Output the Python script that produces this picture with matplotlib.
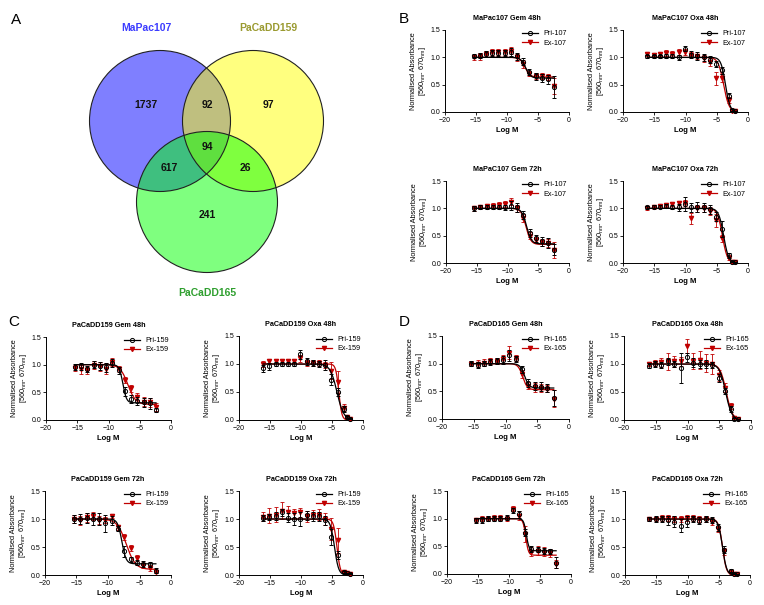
import numpy as np
import matplotlib
matplotlib.use("Agg")
import matplotlib.pyplot as plt
from matplotlib.patches import Circle
from matplotlib.lines import Line2D

plt.rcParams['font.family'] = ['Liberation Sans', 'DejaVu Sans']
plt.rcParams['mathtext.fontset'] = 'custom'
plt.rcParams['mathtext.rm'] = 'Liberation Sans'
plt.rcParams['mathtext.it'] = 'Liberation Sans:italic'
plt.rcParams['mathtext.bf'] = 'Liberation Sans:bold'

# ---------------- panel A : venn ----------------
venn_sets = ['MaPac107', 'PaCaDD159', 'PaCaDD165']
venn_regions = ['100', '110', '010', '111', '101', '011', '001']
venn_counts = [1737, 92, 97, 94, 617, 26, 241]

# ---------------- dose response data ----------------
gem_logm = [-15.4, -14.4, -13.4, -12.4, -11.4, -10.4, -9.4, -8.4, -7.4, -6.4, -5.4, -4.4, -3.4, -2.4]
oxa_logm = [-16.1, -15.1, -14.1, -13.1, -12.1, -11.1, -10.1, -9.1, -8.1, -7.1, -6.1, -5.1, -4.1, -3.1, -2.6, -2.1]

# fit params: (top, bottom, logIC50, hill)
b1_pri = [1.02, 1.03, 1.06, 1.08, 1.08, 1.08, 1.10, 1.02, 0.92, 0.73, 0.65, 0.62, 0.60, 0.45]
b1_pri_err = [0.04, 0.05, 0.05, 0.06, 0.06, 0.05, 0.07, 0.06, 0.06, 0.05, 0.07, 0.08, 0.08, 0.20]
b1_ex = [1.00, 1.02, 1.06, 1.10, 1.10, 1.10, 1.12, 1.00, 0.88, 0.70, 0.66, 0.66, 0.64, 0.48]
b1_ex_err = [0.05, 0.06, 0.06, 0.05, 0.06, 0.06, 0.06, 0.06, 0.07, 0.05, 0.05, 0.06, 0.05, 0.15]
b1_fit = [(1.0, 0.62, -7.0, 1.1), (1.0, 0.64, -7.1, 1.1)]

b2_pri = [1.02, 1.02, 1.02, 1.03, 1.02, 1.00, 1.16, 1.05, 1.02, 1.00, 0.96, 0.88, 0.76, 0.30, 0.04, 0.01]
b2_pri_err = [0.03, 0.03, 0.03, 0.04, 0.04, 0.05, 0.05, 0.06, 0.07, 0.07, 0.06, 0.06, 0.06, 0.05, 0.02, 0.01]
b2_ex = [1.06, 1.05, 1.06, 1.08, 1.06, 1.10, 1.10, 1.05, 1.02, 0.98, 0.92, 0.62, 0.62, 0.22, 0.02, 0.01]
b2_ex_err = [0.03, 0.03, 0.04, 0.06, 0.06, 0.05, 0.05, 0.05, 0.05, 0.06, 0.07, 0.12, 0.07, 0.05, 0.01, 0.01]
b2_fit = [(1.0, 0.0, -3.6, 1.2), (1.0, 0.0, -3.9, 1.0)]

b3_pri = [1.00, 1.02, 1.02, 1.02, 1.02, 1.02, 1.05, 1.02, 0.88, 0.55, 0.45, 0.40, 0.37, 0.24]
b3_pri_err = [0.04, 0.04, 0.04, 0.04, 0.04, 0.05, 0.08, 0.08, 0.08, 0.07, 0.06, 0.08, 0.09, 0.10]
b3_ex = [1.00, 1.02, 1.04, 1.05, 1.07, 1.08, 1.12, 1.00, 0.82, 0.50, 0.42, 0.38, 0.36, 0.24]
b3_ex_err = [0.04, 0.04, 0.04, 0.04, 0.05, 0.05, 0.06, 0.06, 0.07, 0.06, 0.06, 0.06, 0.07, 0.15]
b3_fit = [(1.0, 0.35, -6.9, 1.1), (1.0, 0.34, -7.0, 1.1)]

b4_pri = [1.02, 1.03, 1.03, 1.04, 1.03, 1.02, 1.08, 1.02, 1.02, 1.02, 0.98, 0.85, 0.62, 0.14, 0.02, 0.01]
b4_pri_err = [0.03, 0.03, 0.03, 0.04, 0.04, 0.06, 0.13, 0.08, 0.09, 0.08, 0.08, 0.08, 0.15, 0.04, 0.01, 0.01]
b4_ex = [1.00, 1.02, 1.04, 1.06, 1.08, 1.10, 1.10, 0.82, 1.00, 1.00, 0.95, 0.78, 0.45, 0.10, 0.01, 0.01]
b4_ex_err = [0.03, 0.03, 0.03, 0.04, 0.04, 0.04, 0.06, 0.10, 0.06, 0.06, 0.07, 0.12, 0.06, 0.04, 0.01, 0.01]
b4_fit = [(1.0, 0.0, -3.9, 1.1), (1.0, 0.0, -4.1, 1.1)]

c1_pri = [0.96, 0.97, 0.92, 1.00, 0.98, 0.95, 1.03, 0.90, 0.52, 0.38, 0.35, 0.32, 0.30, 0.18]
c1_pri_err = [0.05, 0.06, 0.06, 0.06, 0.07, 0.08, 0.08, 0.06, 0.08, 0.08, 0.07, 0.08, 0.10, 0.04]
c1_ex = [0.94, 0.92, 0.90, 1.00, 0.97, 0.93, 1.05, 0.92, 0.72, 0.57, 0.42, 0.33, 0.32, 0.24]
c1_ex_err = [0.06, 0.08, 0.06, 0.07, 0.08, 0.10, 0.07, 0.05, 0.06, 0.06, 0.06, 0.08, 0.08, 0.07]
c1_fit = [(1.0, 0.31, -7.7, 1.5), (1.0, 0.28, -6.9, 0.7)]

c2_pri = [0.92, 0.96, 1.00, 1.00, 1.00, 1.00, 1.17, 1.05, 1.02, 1.00, 0.98, 0.72, 0.50, 0.20, 0.05, 0.02]
c2_pri_err = [0.06, 0.06, 0.04, 0.04, 0.04, 0.04, 0.08, 0.06, 0.05, 0.06, 0.09, 0.10, 0.08, 0.05, 0.02, 0.01]
c2_ex = [1.00, 1.05, 1.05, 1.05, 1.05, 1.05, 1.10, 1.02, 1.02, 1.02, 0.98, 0.88, 0.68, 0.22, 0.06, 0.02]
c2_ex_err = [0.05, 0.04, 0.04, 0.04, 0.04, 0.04, 0.06, 0.05, 0.05, 0.06, 0.06, 0.15, 0.20, 0.06, 0.02, 0.01]
c2_fit = [(1.0, 0.0, -4.2, 0.8), (1.0, 0.0, -3.9, 1.8)]

c3_pri = [1.00, 1.00, 1.02, 1.00, 1.00, 0.92, 0.97, 0.83, 0.42, 0.28, 0.22, 0.20, 0.19, 0.08]
c3_pri_err = [0.08, 0.09, 0.09, 0.10, 0.10, 0.15, 0.08, 0.05, 0.10, 0.05, 0.04, 0.05, 0.05, 0.04]
c3_ex = [1.00, 0.98, 1.03, 1.05, 0.98, 0.98, 1.05, 0.85, 0.68, 0.48, 0.30, 0.17, 0.12, 0.06]
c3_ex_err = [0.07, 0.08, 0.08, 0.07, 0.07, 0.06, 0.04, 0.04, 0.06, 0.06, 0.05, 0.04, 0.05, 0.03]
c3_fit = [(1.0, 0.20, -7.8, 1.3), (1.0, 0.10, -7.1, 0.6)]

c4_pri = [1.02, 1.04, 1.05, 1.12, 1.02, 1.00, 1.00, 1.07, 1.05, 1.05, 0.98, 0.68, 0.35, 0.06, 0.03, 0.02]
c4_pri_err = [0.05, 0.05, 0.07, 0.06, 0.08, 0.10, 0.12, 0.08, 0.08, 0.08, 0.08, 0.15, 0.07, 0.02, 0.01, 0.01]
c4_ex = [1.04, 1.06, 1.08, 1.15, 1.12, 1.10, 1.12, 1.05, 1.08, 1.08, 1.00, 0.82, 0.62, 0.05, 0.03, 0.02]
c4_ex_err = [0.08, 0.14, 0.14, 0.15, 0.12, 0.08, 0.08, 0.10, 0.08, 0.10, 0.10, 0.20, 0.22, 0.02, 0.01, 0.01]
c4_fit = [(1.0, 0.0, -4.6, 1.3), (1.0, 0.0, -4.2, 1.6)]

d1_pri = [1.00, 0.98, 1.00, 1.03, 1.05, 1.07, 1.15, 1.08, 0.90, 0.65, 0.60, 0.58, 0.56, 0.38]
d1_pri_err = [0.04, 0.05, 0.05, 0.05, 0.06, 0.07, 0.10, 0.05, 0.06, 0.08, 0.07, 0.08, 0.07, 0.15]
d1_ex = [1.00, 1.00, 1.02, 1.05, 1.05, 1.08, 1.20, 1.10, 0.82, 0.60, 0.57, 0.56, 0.55, 0.37]
d1_ex_err = [0.05, 0.06, 0.06, 0.06, 0.06, 0.07, 0.12, 0.06, 0.07, 0.06, 0.08, 0.08, 0.06, 0.16]
d1_fit = [(1.0, 0.56, -7.0, 1.2), (1.0, 0.53, -7.3, 1.2)]

d2_pri = [0.97, 1.00, 0.98, 1.05, 1.00, 0.93, 1.12, 1.02, 1.00, 1.00, 0.98, 0.75, 0.52, 0.20, 0.02, 0.01]
d2_pri_err = [0.05, 0.05, 0.06, 0.06, 0.06, 0.27, 0.08, 0.08, 0.08, 0.07, 0.06, 0.07, 0.06, 0.05, 0.02, 0.01]
d2_ex = [1.00, 1.02, 1.03, 1.05, 1.05, 1.05, 1.32, 1.05, 1.07, 1.02, 1.00, 0.80, 0.58, 0.25, 0.03, 0.02]
d2_ex_err = [0.04, 0.06, 0.08, 0.15, 0.10, 0.08, 0.12, 0.14, 0.16, 0.16, 0.18, 0.10, 0.08, 0.06, 0.02, 0.01]
d2_fit = [(1.0, 0.0, -4.0, 0.9), (1.0, 0.0, -3.9, 0.9)]

d3_pri = [0.97, 0.98, 1.00, 1.00, 1.00, 1.02, 1.15, 1.08, 0.75, 0.45, 0.44, 0.42, 0.41, 0.20]
d3_pri_err = [0.04, 0.05, 0.04, 0.04, 0.04, 0.04, 0.04, 0.06, 0.06, 0.06, 0.05, 0.05, 0.05, 0.10]
d3_ex = [0.98, 1.00, 1.00, 1.02, 1.02, 1.00, 1.18, 1.05, 0.72, 0.40, 0.42, 0.40, 0.38, 0.18]
d3_ex_err = [0.04, 0.05, 0.05, 0.04, 0.04, 0.04, 0.04, 0.08, 0.15, 0.08, 0.08, 0.08, 0.08, 0.08]
d3_fit = [(1.0, 0.42, -7.2, 2.0), (1.0, 0.34, -7.3, 2.0)]

d4_pri = [1.00, 1.00, 1.00, 0.98, 0.95, 0.88, 0.95, 1.00, 0.97, 1.00, 0.98, 0.85, 0.45, 0.08, 0.02, 0.01]
d4_pri_err = [0.04, 0.05, 0.06, 0.08, 0.10, 0.12, 0.10, 0.06, 0.06, 0.05, 0.05, 0.06, 0.06, 0.03, 0.01, 0.01]
d4_ex = [1.00, 1.00, 1.02, 1.02, 1.00, 1.00, 1.02, 1.02, 1.00, 1.00, 0.95, 0.82, 0.42, 0.05, 0.02, 0.01]
d4_ex_err = [0.04, 0.04, 0.05, 0.05, 0.05, 0.05, 0.05, 0.05, 0.05, 0.05, 0.06, 0.06, 0.06, 0.03, 0.01, 0.01]
d4_fit = [(1.0, 0.0, -4.4, 1.3), (1.0, 0.0, -4.4, 1.4)]

W, H = 764, 605
fig = plt.figure(figsize=(W / 100, H / 100), dpi=100)


def px_axes(x0, x1, ytop, ybot, **kw):
    return fig.add_axes([x0 / W, 1 - ybot / H, (x1 - x0) / W, (ybot - ytop) / H], **kw)


# ---- venn ----
axv = px_axes(0, 390, 0, 310)
axv.set_xlim(0, 390)
axv.set_ylim(310, 0)
axv.set_aspect('equal')
axv.axis('off')
circ = [((160, 121), (0, 0, 1)), ((253, 121), (1, 1, 0)), ((207, 202), (0, 1, 0))]
for (cx, cy), col in circ:
    axv.add_patch(Circle((cx, cy), 70.5, facecolor=col, alpha=0.5, edgecolor='none'))
for (cx, cy), col in circ:
    axv.add_patch(Circle((cx, cy), 70.5, facecolor='none', edgecolor='#222222', lw=0.8))
count_pos = {'100': (146, 105), '110': (207, 105), '010': (268, 105), '111': (207, 147),
             '101': (169, 168), '011': (245, 168), '001': (207, 215)}
for reg, n in zip(venn_regions, venn_counts):
    axv.text(*count_pos[reg], str(n), ha='center', va='center', fontsize=7.5, fontweight='bold', color='#111111')
label_pos = [(146, 28), (268, 28), (207, 293)]
label_col = ['#3c3cff', '#9a9a30', '#2f9f2f']
for name, (lx, ly), lc in zip(venn_sets, label_pos, label_col):
    axv.text(lx, ly, name, ha='center', va='center', fontsize=7.5, fontweight='bold', color=lc)


def hill(x, top, bottom, logic50, slope):
    return bottom + (top - bottom) / (1 + 10 ** ((x - logic50) * slope))


def dose_panel(box, title, tag, logm, pri, pri_err, ex, ex_err, fits):
    ax = px_axes(*box)
    xs = np.linspace(min(logm), max(logm), 300)
    ax.plot(xs, hill(xs, *fits[1]), color='#c00000', lw=0.9, zorder=2)
    ax.errorbar(logm, ex, yerr=ex_err, fmt='v', ms=3, mfc='#c00000', mec='#c00000',
                ecolor='#c00000', elinewidth=0.6, capsize=1.3, capthick=0.6, clip_on=False, zorder=3)
    ax.plot(xs, hill(xs, *fits[0]), color='black', lw=0.9, zorder=4)
    ax.errorbar(logm, pri, yerr=pri_err, fmt='o', ms=3, mfc='none', mec='black', mew=0.7,
                ecolor='black', elinewidth=0.6, capsize=1.3, capthick=0.6, clip_on=False, zorder=5)
    ax.set_xlim(-20, 0)
    ax.set_ylim(0, 1.5)
    ax.set_xticks([-20, -15, -10, -5, 0])
    ax.set_yticks([0.0, 0.5, 1.0, 1.5])
    ax.set_yticklabels(['0.0', '0.5', '1.0', '1.5'])
    for s in ['top', 'right']:
        ax.spines[s].set_visible(False)
    for s in ['left', 'bottom']:
        ax.spines[s].set_linewidth(0.7)
    ax.tick_params(labelsize=5, length=2, width=0.6, pad=1.5)
    ax.set_title(title, fontsize=5.2, fontweight='bold', pad=7)
    ax.set_xlabel('Log M', fontsize=5.5, fontweight='bold', labelpad=2)
    ax.set_ylabel('Normalised Absorbance\n[560$_{\\rm nm}$- 670$_{\\rm nm}$]', fontsize=5.3, labelpad=2,
                  linespacing=1.0)
    handles = [Line2D([], [], color='black', lw=0.9, marker='o', ms=3, mfc='none', mew=0.7),
               Line2D([], [], color='#c00000', lw=0.9, marker='v', ms=3)]
    ax.legend(handles, ['Pri-' + tag, 'Ex-' + tag], loc='upper right', bbox_to_anchor=(1.02, 1.05),
              frameon=False, fontsize=5.2, handlelength=2.2, labelspacing=0.3, borderaxespad=0.2)
    return ax


dose_panel((445, 569, 30, 112), 'MaPac107 Gem 48h', '107', gem_logm, b1_pri, b1_pri_err, b1_ex, b1_ex_err, b1_fit)
dose_panel((623, 748, 30, 112), 'MaPaC107 Oxa 48h', '107', oxa_logm, b2_pri, b2_pri_err, b2_ex, b2_ex_err, b2_fit)
dose_panel((446, 569, 181, 263), 'MaPaC107 Gem 72h', '107', gem_logm, b3_pri, b3_pri_err, b3_ex, b3_ex_err, b3_fit)
dose_panel((623, 748, 181, 263), 'MaPaC107 Oxa 72h', '107', oxa_logm, b4_pri, b4_pri_err, b4_ex, b4_ex_err, b4_fit)
dose_panel((46, 171, 337, 420), 'PaCaDD159 Gem 48h', '159', gem_logm, c1_pri, c1_pri_err, c1_ex, c1_ex_err, c1_fit)
dose_panel((239, 363, 336, 420), 'PaCaDD159 Oxa 48h', '159', oxa_logm, c2_pri, c2_pri_err, c2_ex, c2_ex_err, c2_fit)
dose_panel((45, 171, 491, 575), 'PaCaDD159 Gem 72h', '159', gem_logm, c3_pri, c3_pri_err, c3_ex, c3_ex_err, c3_fit)
dose_panel((239, 363, 491, 575), 'PaCaDD159 Oxa 72h', '159', oxa_logm, c4_pri, c4_pri_err, c4_ex, c4_ex_err, c4_fit)
dose_panel((442, 569, 336, 419), 'PaCaDD165 Gem 48h', '165', gem_logm, d1_pri, d1_pri_err, d1_ex, d1_ex_err, d1_fit)
dose_panel((624, 751, 336, 420), 'PaCaDD165 Oxa 48h', '165', oxa_logm, d2_pri, d2_pri_err, d2_ex, d2_ex_err, d2_fit)
dose_panel((447, 571, 491, 574), 'PaCaDD165 Gem 72h', '165', gem_logm, d3_pri, d3_pri_err, d3_ex, d3_ex_err, d3_fit)
dose_panel((625, 750, 491, 575), 'PaCaDD165 Oxa 72h', '165', oxa_logm, d4_pri, d4_pri_err, d4_ex, d4_ex_err, d4_fit)

for letter, (lx, ly) in zip('ABCD', [(16, 20), (404, 19), (14, 322), (404, 322)]):
    fig.text(lx / W, 1 - ly / H, letter, fontsize=11, ha='center', va='center')

fig.savefig('out.png', dpi=100)
